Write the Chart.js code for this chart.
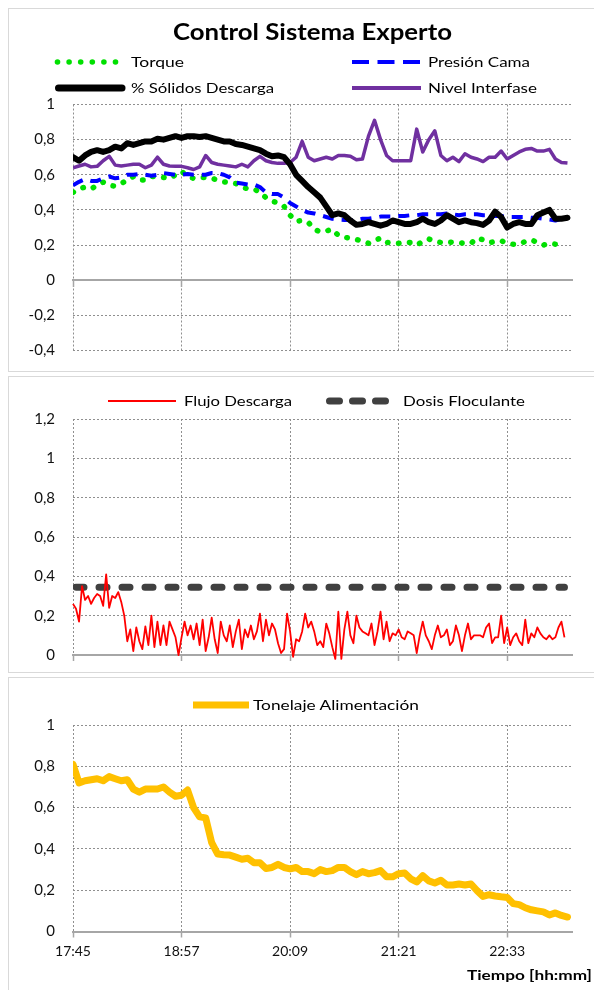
<!DOCTYPE html>
<html lang="es">
<head>
<meta charset="utf-8">
<title>Control Sistema Experto</title>
<script src="https://cdn.jsdelivr.net/npm/chart.js@4.4.1/dist/chart.umd.min.js"></script>
<style>
  html, body { margin: 0; padding: 0; background: #fff; }
  body { position: relative; width: 594px; height: 990px; overflow: hidden; font-family: Lato, "Noto Sans", sans-serif; color: #000; }
  .frame { position: absolute; left: 8px; width: 620px; border: 1px solid #d9d9d9; box-sizing: border-box; }
  canvas { position: absolute; left: 0; }
  .lbl { position: absolute; white-space: nowrap; line-height: 1; transform-origin: 0 50%; }
  #keys { position: absolute; left: 0; top: 0; pointer-events: none; }
</style>
</head>
<body>
<div class="frame" style="top:8px;height:364px"></div>
<div class="frame" style="top:376px;height:297px"></div>
<div class="frame" style="top:677px;height:340px"></div>
<canvas id="cTop" width="594" height="372" style="top:0"></canvas>
<canvas id="cMid" width="594" height="301" style="top:372px"></canvas>
<canvas id="cBot" width="594" height="317" style="top:673px"></canvas>

<!-- legend keys -->
<svg id="keys" width="594" height="990" xmlns="http://www.w3.org/2000/svg">
  <g fill="#00E000">
    <circle cx="57.5" cy="62" r="2.8"/><circle cx="69.1" cy="62" r="2.8"/><circle cx="80.7" cy="62" r="2.8"/>
    <circle cx="92.3" cy="62" r="2.8"/><circle cx="103.9" cy="62" r="2.8"/><circle cx="115.5" cy="62" r="2.8"/>
  </g>
  <line x1="352" y1="62" x2="420" y2="62" stroke="#0000FF" stroke-width="4" stroke-dasharray="17 8.5"/>
  <line x1="58.5" y1="88" x2="122" y2="88" stroke="#000" stroke-width="7" stroke-linecap="round"/>
  <line x1="352" y1="88" x2="421" y2="88" stroke="#7030A0" stroke-width="4"/>
  <line x1="108" y1="401" x2="176" y2="401" stroke="#FF0000" stroke-width="2"/>
  <line x1="329.5" y1="401" x2="385.5" y2="401" stroke="#404040" stroke-width="7" stroke-linecap="round" stroke-dasharray="10 13"/>
  <line x1="193" y1="705" x2="249" y2="705" stroke="#FFC000" stroke-width="7"/>
</svg>

<script>
// ---- time axis (minutes elapsed since 17:45) ----
const tickMinutes = [0, 72, 144, 216, 288];
const tickLabels = ['17:45', '18:57', '20:09', '21:21', '22:33'];
const axisEndMin = 331;

// ---- upper panel: process signals, one sample every 4 min ----
const stepSlow = 4;
const torque = [
  0.50, 0.52, 0.53, 0.52, 0.54, 0.558, 0.54, 0.535, 0.55, 0.57,
  0.59, 0.57, 0.57, 0.59, 0.59, 0.585, 0.58, 0.60, 0.62, 0.59,
  0.58, 0.585, 0.585, 0.58, 0.57, 0.56, 0.555, 0.55, 0.53, 0.52,
  0.52, 0.50, 0.47, 0.45, 0.44, 0.42, 0.37, 0.335, 0.34, 0.33,
  0.29, 0.275, 0.28, 0.29, 0.255, 0.245, 0.238, 0.232, 0.222, 0.21,
  0.225, 0.24, 0.215, 0.212, 0.21, 0.215, 0.215, 0.20, 0.22, 0.235,
  0.22, 0.215, 0.219, 0.215, 0.213, 0.21, 0.21, 0.24, 0.23, 0.213,
  0.22, 0.225, 0.21, 0.205, 0.206, 0.22, 0.23, 0.215, 0.20, 0.21,
  0.205, 0.175, null
];
const presionCama = [
  0.54, 0.56, 0.575, 0.565, 0.565, 0.58, 0.59, 0.58, 0.585, 0.60,
  0.60, 0.605, 0.60, 0.595, 0.60, 0.61, 0.605, 0.60, 0.60, 0.605,
  0.60, 0.60, 0.60, 0.61, 0.61, 0.60, 0.585, 0.555, 0.55, 0.545,
  0.545, 0.53, 0.50, 0.49, 0.49, 0.47, 0.44, 0.42, 0.40, 0.385,
  0.38, 0.37, 0.36, 0.35, 0.345, 0.343, 0.343, 0.343, 0.35, 0.35,
  0.355, 0.362, 0.362, 0.362, 0.365, 0.366, 0.37, 0.37, 0.375, 0.375,
  0.375, 0.375, 0.38, 0.375, 0.37, 0.375, 0.375, 0.375, 0.37, 0.37,
  0.365, 0.365, 0.36, 0.36, 0.36, 0.36, 0.355, 0.355, 0.35, 0.345,
  0.34, 0.35, 0.35
];
const solidosDescarga = [
  0.70, 0.68, 0.71, 0.73, 0.74, 0.73, 0.74, 0.76, 0.75, 0.78,
  0.77, 0.78, 0.79, 0.79, 0.805, 0.80, 0.81, 0.82, 0.81, 0.82,
  0.82, 0.815, 0.82, 0.81, 0.80, 0.79, 0.79, 0.775, 0.77, 0.76,
  0.75, 0.74, 0.72, 0.705, 0.71, 0.70, 0.66, 0.60, 0.565, 0.53,
  0.50, 0.47, 0.42, 0.37, 0.38, 0.37, 0.34, 0.315, 0.32, 0.33,
  0.32, 0.31, 0.32, 0.34, 0.33, 0.32, 0.32, 0.33, 0.35, 0.33,
  0.32, 0.34, 0.37, 0.35, 0.33, 0.34, 0.33, 0.325, 0.315, 0.34,
  0.39, 0.36, 0.30, 0.32, 0.33, 0.32, 0.32, 0.37, 0.385, 0.40,
  0.35, 0.35, 0.355
];
const nivelInterfase = [
  0.64, 0.65, 0.66, 0.645, 0.648, 0.68, 0.705, 0.655, 0.65, 0.655,
  0.66, 0.66, 0.64, 0.655, 0.70, 0.66, 0.65, 0.648, 0.648, 0.64,
  0.63, 0.645, 0.71, 0.67, 0.66, 0.655, 0.65, 0.645, 0.66, 0.645,
  0.68, 0.705, 0.68, 0.67, 0.665, 0.665, 0.67, 0.70, 0.79, 0.70,
  0.68, 0.69, 0.70, 0.69, 0.71, 0.71, 0.705, 0.685, 0.69, 0.82,
  0.91, 0.80, 0.71, 0.68, 0.68, 0.68, 0.68, 0.86, 0.73, 0.80,
  0.85, 0.71, 0.68, 0.70, 0.675, 0.72, 0.70, 0.69, 0.675, 0.70,
  0.70, 0.735, 0.69, 0.71, 0.73, 0.745, 0.75, 0.735, 0.735, 0.745,
  0.69, 0.67, 0.667
];

// ---- middle panel: discharge flow every 2 min, flocculant dose setpoint ----
const stepFast = 2;
const flujoDescarga = [
  0.26, 0.235, 0.17, 0.35, 0.28, 0.30, 0.26, 0.29, 0.31, 0.30,
  0.25, 0.41, 0.24, 0.30, 0.29, 0.32, 0.27, 0.20, 0.07, 0.13,
  0.02, 0.14, 0.07, 0.03, 0.145, 0.05, 0.20, 0.04, 0.17, 0.05,
  0.15, 0.05, 0.17, 0.13, 0.09, 0.00, 0.09, 0.17, 0.10, 0.15,
  0.08, 0.16, 0.05, 0.18, 0.02, 0.09, 0.19, 0.08, 0.01, 0.17,
  0.10, 0.07, 0.15, 0.04, 0.12, 0.18, 0.03, 0.13, 0.09, 0.15,
  0.08, 0.12, 0.21, 0.07, 0.18, 0.10, 0.16, 0.13, 0.06, 0.01,
  0.03, 0.21, 0.12, -0.01, 0.08, 0.07, 0.12, 0.21, 0.14, 0.17,
  0.12, 0.05, 0.07, 0.04, 0.16, 0.11, 0.04, -0.02, 0.22, -0.02,
  0.13, 0.22, 0.10, 0.06, 0.20, 0.14, 0.12, 0.11, 0.10, 0.16,
  0.05, 0.12, 0.22, 0.08, 0.17, 0.07, 0.11, 0.10, 0.13, 0.09,
  0.08, 0.12, 0.11, 0.10, 0.01, 0.10, 0.17, 0.10, 0.07, 0.03,
  0.10, 0.15, 0.09, 0.10, 0.13, 0.05, 0.07, 0.15, 0.10, 0.02,
  0.10, 0.16, 0.08, 0.10, 0.10, 0.10, 0.09, 0.14, 0.16, 0.06,
  0.09, 0.09, 0.20, 0.06, 0.14, 0.05, 0.09, 0.11, 0.07, 0.05,
  0.18, 0.06, 0.11, 0.09, 0.14, 0.11, 0.09, 0.08, 0.10, 0.08,
  0.09, 0.14, 0.17, 0.09
];
const dosisTime = [0, 326];
const dosisFloculante = [0.345, 0.345];

// ---- lower panel: feed tonnage every 4 min ----
const tonelajeAlimentacion = [
  0.81, 0.72, 0.73, 0.735, 0.74, 0.73, 0.75, 0.74, 0.73, 0.735,
  0.69, 0.675, 0.69, 0.69, 0.69, 0.70, 0.675, 0.655, 0.66, 0.685,
  0.60, 0.555, 0.55, 0.43, 0.375, 0.372, 0.37, 0.36, 0.35, 0.355,
  0.333, 0.333, 0.305, 0.31, 0.325, 0.31, 0.303, 0.31, 0.29, 0.29,
  0.28, 0.30, 0.29, 0.295, 0.31, 0.31, 0.29, 0.275, 0.29, 0.28,
  0.285, 0.295, 0.265, 0.265, 0.28, 0.283, 0.255, 0.24, 0.27, 0.245,
  0.235, 0.248, 0.225, 0.225, 0.23, 0.225, 0.23, 0.198, 0.17, 0.178,
  0.172, 0.168, 0.165, 0.135, 0.13, 0.115, 0.105, 0.10, 0.095, 0.08,
  0.09, 0.078, 0.07
];

// ---- value-axis ticks ----
const yTicksTop = [-0.4, -0.2, 0, 0.2, 0.4, 0.6, 0.8, 1];
const yTicksMid = [0, 0.2, 0.4, 0.6, 0.8, 1, 1.2];
const yTicksBot = [0, 0.2, 0.4, 0.6, 0.8, 1];

// ---- styling ----
const FONT = 'Lato, "Noto Sans", sans-serif';
const GRID = '#8f8f8f';
const AXIS = '#a6a6a6';
const INK = '#111';
Chart.defaults.font.family = FONT;

const decimal = v => String(Math.round(v * 10) / 10).replace('.', ',');
const series = (vals, step) => vals.map((v, i) => ({ x: i * step, y: v }));

function yAxis(ticks) {
  return {
    type: 'linear',
    min: ticks[0],
    max: ticks[ticks.length - 1],
    afterBuildTicks: s => { s.ticks = ticks.map(v => ({ value: v })); },
    // fixed gutter for the labels; label overhang is absorbed by the layout padding
    afterFit: s => { s.width = 73; s.paddingTop = 0; s.paddingBottom = 0; },
    grid: { color: GRID, lineWidth: 1, drawTicks: false },
    border: { display: false, dash: [2, 2] },
    ticks: { padding: 18, color: INK, font: { family: FONT, size: 15 }, callback: v => decimal(v) }
  };
}

function xAxis(position, showLabels, height) {
  const cfg = {
    type: 'linear',
    min: 0,
    max: axisEndMin,
    position: position,
    afterBuildTicks: s => { s.ticks = tickMinutes.map(v => ({ value: v })); },
    grid: { color: GRID, lineWidth: 1, tickColor: AXIS, tickWidth: 1.5, tickLength: 6 },
    border: { display: true, color: AXIS, width: 2, dash: [2, 2] },
    ticks: {
      display: showLabels, padding: 6, maxRotation: 0, autoSkip: false,
      color: INK, font: { family: FONT, size: 14 },
      callback: v => tickLabels[tickMinutes.indexOf(v)]
    }
  };
  if (height != null) cfg.afterFit = s => { s.height = height; };
  return cfg;
}

function makeChart(id, datasets, xCfg, yCfg, pad) {
  return new Chart(document.getElementById(id), {
    type: 'line',
    data: { datasets: datasets },
    options: {
      responsive: false,
      animation: false,
      devicePixelRatio: 1,
      layout: { padding: pad },
      plugins: { legend: { display: false }, tooltip: { enabled: false }, title: { display: false } },
      elements: { point: { radius: 0 }, line: { tension: 0, borderJoinStyle: 'round' } },
      scales: { x: xCfg, y: yCfg }
    }
  });
}

// upper panel (first dataset is painted last, i.e. on top)
makeChart('cTop', [
  { label: '% Sólidos Descarga', data: series(solidosDescarga, stepSlow), borderColor: '#000000', borderWidth: 6, borderCapStyle: 'round' },
  { label: 'Nivel Interfase', data: series(nivelInterfase, stepSlow), borderColor: '#7030A0', borderWidth: 3.5 },
  { label: 'Presión Cama', data: series(presionCama, stepSlow), borderColor: '#0000FF', borderWidth: 4, borderDash: [11, 8] },
  { label: 'Torque', data: series(torque, stepSlow), borderColor: '#00E000', borderWidth: 5.5, borderDash: [0.5, 10.5], borderCapStyle: 'round' }
], xAxis({ y: 0 }, false, 0), yAxis(yTicksTop), { top: 104.5, right: 22, bottom: 21.5, left: 0 });

// middle panel
makeChart('cMid', [
  { label: 'Flujo Descarga', data: series(flujoDescarga, stepFast), borderColor: '#FF0000', borderWidth: 1.8, clip: false },
  { label: 'Dosis Floculante', data: dosisTime.map((t, i) => ({ x: t, y: dosisFloculante[i] })),
    borderColor: '#404040', borderWidth: 7, borderDash: [8, 15], borderDashOffset: 20, borderCapStyle: 'round' }
], xAxis('bottom', false, 10), yAxis(yTicksMid), { top: 47, right: 22, bottom: 8, left: 0 });

// lower panel
makeChart('cBot', [
  { label: 'Tonelaje Alimentación', data: series(tonelajeAlimentacion, stepSlow), borderColor: '#FFC000', borderWidth: 7, borderCapStyle: 'round' }
], xAxis('bottom', true, 40), yAxis(yTicksBot), { top: 52, right: 22, bottom: 18.5, left: 0 });

// ---- titles and legend texts ----
function label(text, left, midY, size, weight, width) {
  const el = document.createElement('div');
  el.className = 'lbl';
  el.textContent = text;
  el.style.fontSize = size + 'px';
  el.style.fontWeight = weight;
  el.style.left = left + 'px';
  document.body.appendChild(el);
  const r = el.getBoundingClientRect();
  el.style.top = (midY - r.height / 2) + 'px';
  if (width) el.style.transform = 'scaleX(' + (width / r.width).toFixed(4) + ')';
}
label('Control Sistema Experto', 173, 32, 22, 700, 279);
label('Torque', 131, 62, 14, 400, 53);
label('Presión Cama', 428, 62, 14, 400, 102);
label('% Sólidos Descarga', 131, 88, 14, 400, 143);
label('Nivel Interfase', 428, 88, 14, 400, 109);
label('Flujo Descarga', 184, 401, 14, 400, 108);
label('Dosis Floculante', 403, 401, 14, 400, 122);
label('Tonelaje Alimentación', 253, 705, 14, 400, 166);
label('Tiempo [hh:mm]', 467, 975, 14, 700, 125);
</script>
</body>
</html>
